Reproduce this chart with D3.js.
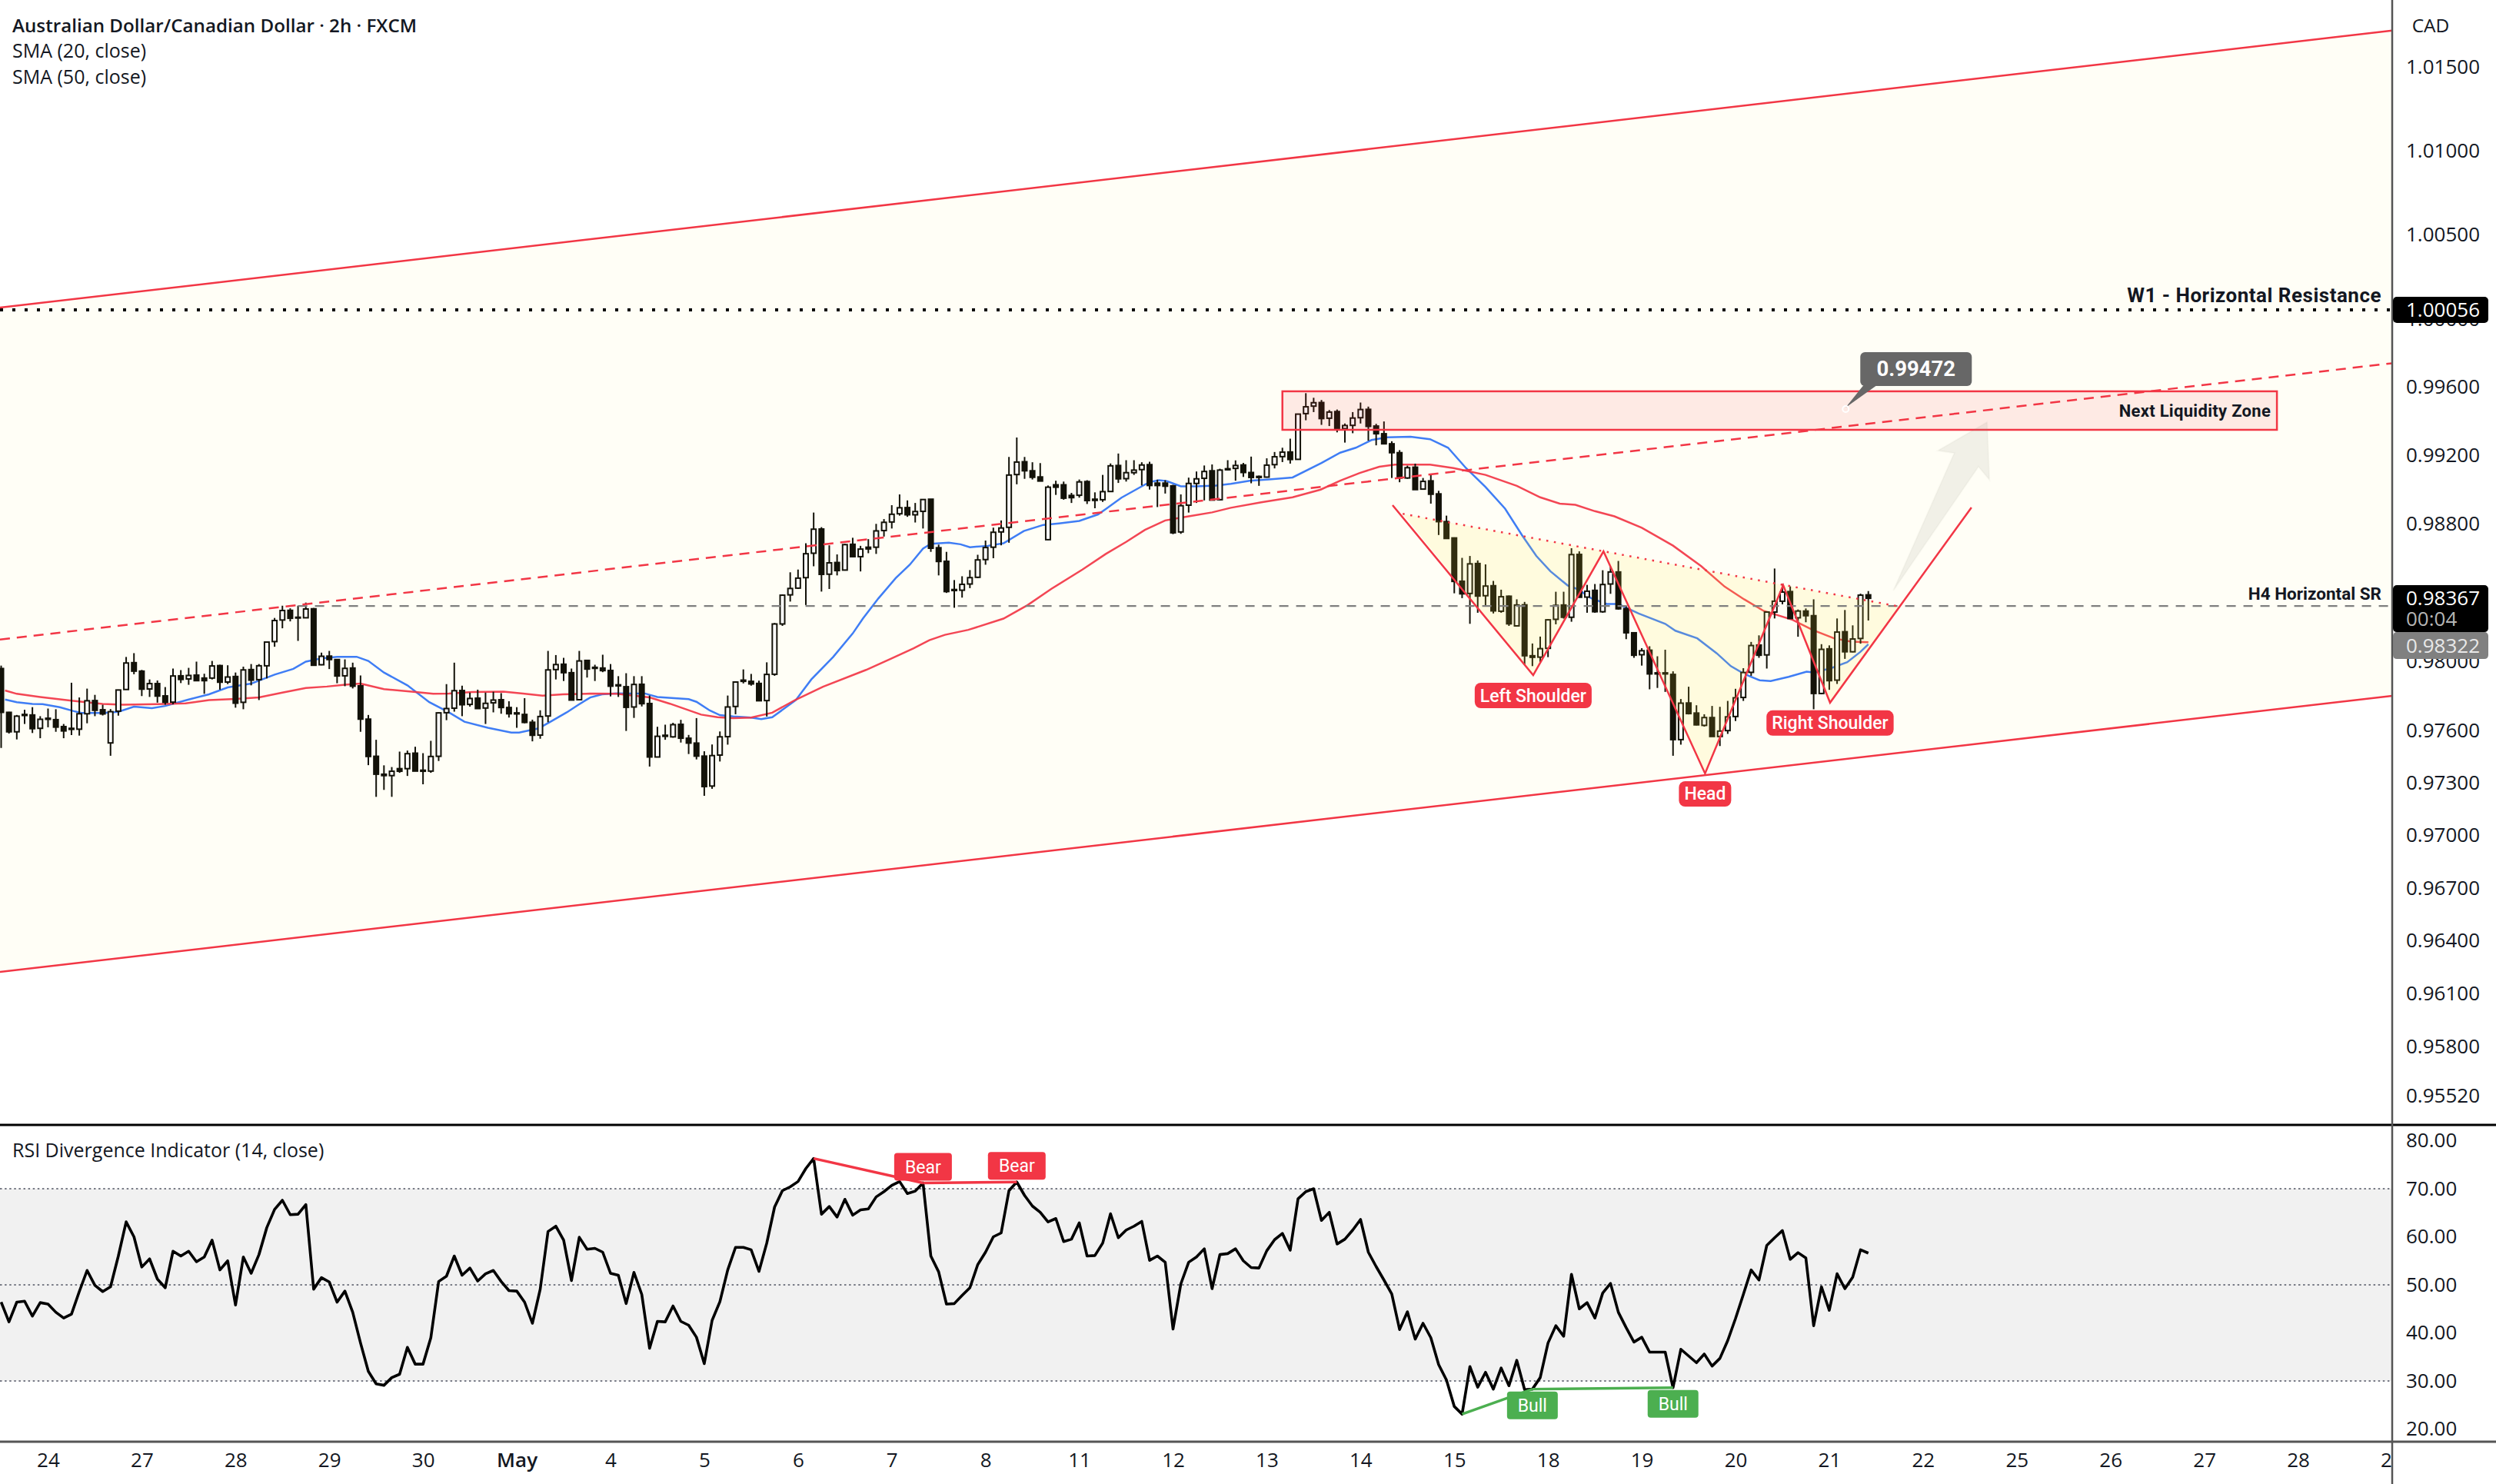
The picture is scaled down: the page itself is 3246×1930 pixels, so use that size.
<!DOCTYPE html>
<html><head><meta charset="utf-8">
<script src="https://cdnjs.cloudflare.com/ajax/libs/d3/7.8.5/d3.min.js"></script>
<style>html,body{margin:0;background:#fff}svg{display:block}</style></head>
<body><svg id="c" width="3246" height="1930"></svg>
<script>
// Prices are in points: 1 point = 0.00001 CAD
const openPts=[97960,97707,97595,97695,97692,97615,97673,97665,97625,97615,
97610,97699,97775,97722,97531,97714,97839,97994,97945,97842,
97873,97802,97766,97918,97900,97922,97905,97905,97977,97882,
97914,97765,97954,97896,97976,98116,98241,98297,98257,98254,
98306,97982,98032,98012,97918,97963,97860,97668,97454,97351,
97343,97383,97383,97472,97374,97369,97454,97705,97731,97833,
97753,97789,97732,97762,97780,97735,97704,97695,97650,97576,
97686,97954,97985,97936,97780,98007,97967,97963,97949,97866,
97855,97738,97869,97758,97450,97575,97566,97638,97558,97530,
97455,97283,97461,97567,97741,97893,97886,97874,97775,97927,
98218,98387,98426,98487,98629,98770,98507,98575,98531,98681,
98609,98664,98664,98761,98811,98859,98895,98853,98873,98944,
98661,98582,98418,98414,98450,98489,98592,98664,98753,98780,
99088,99163,99110,99074,98708,99028,99028,98966,98967,99047,
98944,98941,98989,99141,99064,99099,99117,99146,99038,99038,
99022,98753,98909,99036,99066,99110,98941,99122,99124,99144,
99100,99077,99073,99146,99193,99220,99177,99445,99489,99510,
99418,99457,99357,99376,99421,99470,99372,99327,99268,99216,
99068,99131,99003,99051,98975,98813,98718,98466,98395,98569,
98382,98440,98292,98379,98207,98329,98034,98026,98077,98245,
98328,98257,98622,98374,98413,98289,98450,98520,98307,98167,
98040,98066,97935,97935,97926,97550,97761,97703,97632,97677,
97568,97602,97683,97793,97938,98096,98039,98287,98350,98406,
98254,98293,98266,97816,98074,97893,98173,98057,98134,98387];
const closePts=[97707,97595,97685,97689,97613,97667,97667,97622,97600,97609,
97699,97774,97719,97698,97711,97836,97992,97945,97841,97873,
97801,97765,97917,97897,97920,97890,97890,97975,97881,97911,
97760,97952,97893,97976,98113,98238,98296,98251,98253,98305,
97979,98031,98012,97917,97961,97858,97668,97453,97351,97343,
97368,97368,97469,97369,97368,97453,97704,97729,97832,97751,
97787,97729,97759,97778,97735,97699,97698,97649,97575,97683,
97952,97983,97936,97778,98004,97957,97961,97948,97858,97860,
97736,97868,97757,97450,97569,97569,97636,97558,97530,97455,
97280,97458,97566,97738,97882,97886,97871,97774,97926,98218,
98385,98424,98484,98626,98769,98506,98573,98528,98679,98609,
98653,98654,98759,98809,98856,98894,98853,98872,98942,98658,
98581,98406,98412,98448,98487,98590,98662,98751,98776,99085,
99161,99110,99072,99050,99014,99014,98950,98953,99045,98936,
98937,98988,99139,99063,99099,99114,99144,99024,99024,99020,
98748,98906,99036,99063,99106,98939,99114,99116,99141,99100,
99071,99071,99143,99192,99219,99176,99442,99485,99509,99416,
99454,99354,99375,99419,99469,99370,99327,99268,99216,99068,
99128,99000,99048,98973,98813,98715,98465,98393,98567,98380,
98438,98294,98376,98219,98328,98034,98025,98075,98242,98326,
98257,98621,98373,98408,98289,98447,98520,98306,98167,98037,
98063,97929,97929,97929,97550,97760,97700,97635,97677,97568,
97599,97681,97791,97937,98093,98037,98287,98350,98403,98250,
98293,98266,97816,98071,97890,98171,98057,98131,98385,98367];
const highPts=[97977,97710,97692,97722,97737,97685,97729,97725,97640,97878,
97793,97844,97808,97751,97726,97838,98027,98049,97952,97897,
97891,97853,97960,97951,97964,98000,97930,98004,97982,97979,
97937,97971,97986,97986,98113,98253,98324,98309,98324,98342,
98311,98052,98062,98012,98013,97994,97920,97692,97549,97402,
97392,97481,97487,97509,97472,97543,97707,97870,97994,97861,
97821,97838,97821,97826,97818,97771,97737,97789,97665,97719,
98062,98038,98022,97960,98062,98007,97982,98040,97986,97916,
97933,97916,97916,97804,97624,97636,97647,97664,97577,97674,
97483,97522,97597,97804,97886,97955,97929,97890,97996,98224,
98390,98518,98534,98687,98866,98781,98675,98622,98684,98719,
98672,98711,98800,98828,98909,98972,98937,98922,98945,98945,
98679,98637,98473,98495,98531,98620,98703,98778,98820,99191,
99305,99191,99160,99155,99024,99052,99047,98981,99059,99055,
98984,99086,99153,99211,99172,99172,99160,99163,99058,99055,
99028,98972,99070,99106,99141,99147,99122,99172,99171,99156,
99193,99082,99183,99220,99245,99298,99442,99565,99538,99525,
99466,99469,99387,99454,99510,99486,99385,99399,99283,99231,
99140,99152,99068,99092,98993,98848,98721,98602,98613,98587,
98564,98468,98417,98383,98361,98346,98105,98145,98245,98405,
98405,98658,98640,98445,98450,98530,98551,98584,98324,98170,
98078,98089,98031,98069,97944,97784,97855,97748,97696,97744,
97739,97773,97843,97962,98114,98152,98290,98540,98451,98436,
98302,98308,98361,98101,98094,98250,98299,98210,98394,98409];
const lowPts=[97502,97585,97551,97640,97588,97558,97621,97595,97558,97576,
97573,97644,97685,97689,97457,97688,97838,97927,97801,97796,
97763,97751,97754,97876,97866,97890,97814,97897,97838,97870,
97734,97725,97863,97778,97903,98086,98193,98233,98120,98254,
97979,97979,97957,97875,97858,97845,97595,97403,97221,97261,
97221,97359,97341,97369,97293,97359,97427,97662,97711,97685,
97740,97729,97640,97707,97699,97677,97618,97644,97540,97555,
97650,97897,97888,97778,97777,97908,97888,97939,97799,97796,
97600,97675,97741,97395,97449,97549,97561,97533,97467,97436,
97227,97267,97424,97521,97696,97874,97861,97772,97683,97918,
98207,98348,98421,98328,98553,98406,98421,98500,98528,98606,
98523,98629,98625,98726,98773,98848,98841,98808,98773,98637,
98500,98398,98312,98371,98426,98484,98562,98600,98675,98690,
99031,99063,99059,99050,98706,98969,98941,98922,98953,98916,
98891,98928,98988,99039,99047,99086,99024,99000,98898,98977,
98740,98742,98866,98922,98937,98937,98937,99113,99052,99074,
99037,99022,99070,99124,99161,99152,99176,99406,99454,99379,
99372,99335,99275,99330,99387,99286,99259,99265,99068,99043,
99063,99000,99000,98918,98735,98715,98396,98368,98219,98283,
98324,98279,98283,98207,98207,97981,97974,97996,98026,98216,
98249,98231,98373,98283,98283,98283,98393,98301,98130,98022,
97977,97840,97848,97825,97457,97521,97695,97632,97625,97568,
97513,97583,97657,97773,97918,98022,97960,98250,98332,98248,
98144,98228,97725,97811,97837,97871,98016,98054,98104,98238];

// SMA(20): bar number / value in points
const sma20Bars=[0.5,2,4,5.3,7.5,9.3,10.3,13,15,17,19.3,21,24,26.6,29,32,35,37.4,39,41,43,45.5,47,49,52,54.8,57.3,59.3,62.3,65.3,66.3,68.8,70.4,72.4,73.9,75.4,76.9,78.8,
80,82.4,84,88,89,90.7,92,93.7,96,97.3,98.7,101.7,103.7,106.5,109,110.3,112.3,114.5,116.3,118,119,121.3,122.8,124,126.3,128.3,130.9,133.4,135.4,138,140.4,141.4,143.4,146,147,148.2,149.2,151,153,155.5,157.4,
159.8,162.3,165.3,169,171.4,173.4,175.4,177.4,180.4,182.9,185.2,187.5,190,192.5,194.7,196.5,198.3,200.5,201.8,203.5,205.5,207,209.6,213,214.3,217.1,219.6,221.4,223.1,225.1,226.5,228.8,231.1,231.9,234.1,236.3,238,239];
const sma20Pts=[97781,97766,97756,97754,97737,97714,97704,97704,97710,97740,97731,97744,97781,97811,97851,97873,97925,97958,98000,98019,98028,98028,98004,97937,97863,97766,97707,97653,97618,97591,97591,97615,97655,97707,97751,97793,97811,97817,
97816,97816,97796,97783,97768,97718,97691,97683,97677,97668,97679,97777,97897,98027,98163,98249,98367,98484,98562,98656,98684,98690,98681,98664,98672,98687,98758,98794,98803,98817,98855,98887,98953,99019,99044,99055,99050,99019,99019,99024,99034,
99052,99060,99071,99156,99216,99245,99290,99306,99309,99295,99245,99126,99015,98889,98732,98613,98524,98442,98420,98368,98334,98334,98279,98219,98179,98135,98048,97974,97929,97892,97888,97912,97942,97938,97960,97997,98057,98101];
// SMA(50)
const sma50Bars=[0.5,2,5,9,13,15.6,20,23.6,26.6,30,33,36,39,41.7,44,46,49,52.8,55.3,57.3,60.3,64.3,66.8,69.3,71.9,75.4,78.8,
83,85.6,89.6,91.7,93.7,96,98.7,101.7,105.2,110.7,113.8,116.8,118.8,120.8,123.8,128.3,131.4,134.4,138.4,141.4,144,146.4,149,152,155,157.4,
161.3,165.3,168.9,171.4,173.9,176.4,178.4,182.9,185.9,190,194,197,199.5,201.5,204,206.5,210,214,217.6,220.6,223.1,225.6,
229.3,231.9,234.6,236.8,239];
const sma50Pts=[97833,97814,97796,97774,97756,97751,97754,97759,97778,97784,97793,97821,97848,97856,97867,97873,97841,97826,97814,97815,97824,97827,97815,97803,97811,97815,97814,
97793,97757,97694,97679,97674,97677,97705,97780,97855,97952,98015,98077,98124,98155,98184,98249,98328,98421,98534,98625,98695,98765,98820,98844,98867,98894,
98926,98955,99000,99052,99097,99134,99146,99146,99126,99086,99022,98955,98918,98911,98874,98844,98777,98673,98554,98435,98361,98294,
98242,98183,98135,98116,98112];

const rsiValues=[46.4,42.3,46.4,46.6,43.5,46.3,46.0,44.3,43.1,43.9,
48.6,53.0,49.9,48.6,49.6,56.0,63.1,60.0,53.7,55.4,
51.2,49.4,57.0,56.0,57.0,54.8,55.8,59.3,53.1,55.0,
45.8,55.8,52.4,56.3,61.9,65.7,67.6,64.6,64.7,66.7,
49.1,51.5,50.6,46.4,48.7,44.3,37.9,32.0,29.4,29.1,
30.7,31.4,37.0,33.5,33.5,39.0,50.7,51.8,56.0,52.0,
53.5,50.8,52.3,53.0,50.7,48.8,48.7,46.4,42.0,49.1,
61.1,62.2,59.3,50.9,59.9,57.4,57.6,56.8,52.4,52.0,
46.1,52.6,48.0,36.8,42.4,42.3,45.6,42.4,41.6,39.1,
33.6,42.6,46.5,53.1,57.8,57.8,57.3,52.8,58.7,66.2,
69.6,70.4,71.5,74.2,76.3,64.7,66.3,64.1,67.8,64.5,
65.6,65.8,68.3,69.4,70.7,71.5,69.0,69.5,71.2,56.0,
52.7,46.0,46.1,47.8,49.4,54.2,56.8,60.0,60.8,69.6,
71.4,68.6,66.4,65.1,63.1,63.8,59.0,59.5,62.9,56.0,
56.1,58.7,64.8,59.8,61.4,62.2,63.2,55.1,56.0,54.7,
40.8,50.2,54.7,55.8,57.5,49.2,56.3,56.5,57.5,55.0,
53.6,53.5,57.1,59.4,60.7,57.2,67.9,69.4,70.0,63.4,
65.1,58.5,59.5,61.4,63.6,56.8,53.8,51.0,48.1,40.7,
44.4,38.7,42.0,39.0,33.4,30.2,24.7,23.1,33.0,28.7,
31.8,28.3,32.7,29.0,34.3,28.2,28.3,30.7,37.9,41.5,
39.3,52.2,45.0,46.3,43.1,48.3,50.3,44.3,41.1,38.1,
39.1,36.0,36.0,36.0,28.6,36.6,35.2,33.8,35.6,33.1,
34.7,38.4,43.0,48.0,53.1,51.0,58.2,59.8,61.3,55.3,
56.7,55.6,41.5,49.6,44.7,52.3,49.2,51.6,57.3,56.6];

const priceTicks=[1.015,1.01,1.005,1.0,0.996,0.992,0.988,0.98,0.976,0.973,0.97,0.967,0.964,0.961,0.958,0.9552];
const rsiTicks=[80,70,60,50,40,30,20];
const timeBars=[6,18,30,42,54,66,78,90,102,114,126,138,150,162,174,186,198,210,222,234,246,258,270,282,294,306];
const timeLabels=["24","27","28","29","30","May","4","5","6","7","8","11","12","13","14","15","18","19","20","21","22","25","26","27","28","29"];

// Drawings: [bar, price]
const channelUpper=[[-0.15,1.00069],[306.05,1.01719]];
const channelLower=[[-0.15,0.96222],[306.05,0.97802]];
const channelMiddle=[[-0.15,0.98128],[306.05,0.99741]];
const resistanceLevel=1.00056, supportLevel=0.98322, lastPrice=0.98367, targetPrice=0.99472;
const supportStartBar=38, barsEnd=306.05;
const zoneBars=[164,291.3], zonePrices=[0.99576,0.99350];
const zigzag=[[178.1,0.98909],[196.1,0.97922],[205.1,0.98640],[218.1,0.97355],[228.1,0.98443],[234.1,0.97763],[252.2,0.98896]];
const neckline=[[179.4,0.98859],[243.1,0.98318]];
const arrowShape=[[242.2,0.98412],[250,0.99214],[247.9,0.99228],[254.2,0.99395],[254.5,0.99057],[253.1,0.99134]];
const calloutBar=236.1;
const shoulderNames=["Left Shoulder","Head","Right Shoulder"];
const shoulderVertex=[1,3,5];
const bearBars=[[104,118],[118,130]], bullBars=[[187,196],[196,214]];

const RED="#f23645",INK="#131209",FONT="'Open Sans',sans-serif",LBL="Roboto,sans-serif";
const svg=d3.select("#c");
const W=3246,H=1930,PR=3111,PB=1462,TT=1875;
const x=d3.scaleLinear().domain([0,239]).range([1.5,2429.74]);
// log price scale, anchored on two read ticks
const y=d3.scaleLog().domain([0.996,0.976]).range([503.6,950.6]);
const rsiY=d3.scaleLinear().domain([20,80]).range([1858.5,1483.5]);
const P=v=>v/1e5;
const n=openPts.length;
const defs=svg.append("defs");
defs.append("clipPath").attr("id","pp").append("rect").attr("width",PR).attr("height",PB);
defs.append("clipPath").attr("id","rp").append("rect").attr("y",PB).attr("width",PR).attr("height",TT-PB);
defs.append("clipPath").attr("id","tp").append("rect").attr("y",TT).attr("width",PR).attr("height",H-TT);
const pg=svg.append("g").attr("clip-path","url(#pp)");
const drawLine=d3.line().x(d=>x(d[0])).y(d=>y(d[1]));

// Channel background
pg.append("path").attr("fill","#fffef6")
  .attr("d",drawLine([channelUpper[0],channelUpper[1],channelLower[1],channelLower[0]])+"Z");

// Moving averages under the candles
[[sma20Bars,sma20Pts,"#2f72f4"],[sma50Bars,sma50Pts,RED]].forEach(([b,v,c])=>{
  pg.append("path").attr("fill","none").attr("stroke",c).attr("stroke-width",2.5).attr("stroke-opacity",.92)
    .attr("d",drawLine(b.map((k,i)=>[k,P(v[i])])));
});

// Candles
const bars=d3.range(n);
const cg=pg.append("g");
cg.selectAll("line").data(bars).join("line")
  .attr("x1",i=>x(i)).attr("x2",i=>x(i))
  .attr("y1",i=>y(P(highPts[i]))).attr("y2",i=>y(P(lowPts[i])))
  .attr("stroke",INK).attr("stroke-width",2);
cg.selectAll("rect").data(bars).join("rect")
  .attr("x",i=>x(i)-3).attr("width",6)
  .attr("y",i=>y(P(Math.max(openPts[i],closePts[i]))))
  .attr("height",i=>Math.max(1,Math.abs(y(P(openPts[i]))-y(P(closePts[i])))))
  .attr("fill",i=>closePts[i]>=openPts[i]?"#fff":INK)
  .attr("stroke",INK).attr("stroke-width",2);

// Head & shoulders fill over candles
const hsFill=[neckline[0],...zigzag.slice(1,5),[zigzag[5][0],zigzag[5][1]],neckline[1]];
pg.append("path").attr("fill","#ffeb3b").attr("fill-opacity",.13).attr("d",drawLine(hsFill)+"Z");

// Levels and channel lines
pg.append("line").attr("x1",x(supportStartBar)).attr("x2",x(barsEnd)).attr("y1",y(supportLevel)).attr("y2",y(supportLevel))
  .attr("stroke","#7f7f7f").attr("stroke-width",2.2).attr("stroke-dasharray","12 10");
pg.append("line").attr("x1",0).attr("x2",PR).attr("y1",y(resistanceLevel)).attr("y2",y(resistanceLevel))
  .attr("stroke","#000").attr("stroke-width",4).attr("stroke-dasharray","4 12");
pg.append("path").attr("fill","none").attr("stroke",RED).attr("stroke-width",2.5).attr("d",drawLine(channelUpper));
pg.append("path").attr("fill","none").attr("stroke",RED).attr("stroke-width",2.5).attr("d",drawLine(channelLower));
pg.append("path").attr("fill","none").attr("stroke",RED).attr("stroke-width",2.5).attr("stroke-dasharray","13 9").attr("d",drawLine(channelMiddle));

// Liquidity zone
pg.append("rect").attr("x",x(zoneBars[0])).attr("width",x(zoneBars[1])-x(zoneBars[0]))
  .attr("y",y(zonePrices[0])).attr("height",y(zonePrices[1])-y(zonePrices[0]))
  .attr("fill",RED).attr("fill-opacity",.1).attr("stroke",RED).attr("stroke-width",2.5);
pg.append("text").attr("x",x(zoneBars[1])-8).attr("y",y((zonePrices[0]+zonePrices[1])/2)+8)
  .attr("text-anchor","end").attr("font-family",LBL).attr("font-weight",700).attr("font-size",22).attr("letter-spacing",.3).attr("fill","#131722").text("Next Liquidity Zone");

// Arrow
pg.append("path").attr("fill","#8a8a7a").attr("fill-opacity",.12).attr("stroke","#8a8a7a").attr("stroke-opacity",.05).attr("stroke-width",2)
  .attr("d",drawLine(arrowShape)+"Z");

// Zigzag + neckline
pg.append("path").attr("fill","none").attr("stroke",RED).attr("stroke-width",2.5).attr("d",drawLine(zigzag));
pg.append("path").attr("fill","none").attr("stroke",RED).attr("stroke-width",2.5).attr("stroke-dasharray","2.5 7.5").attr("d",drawLine(neckline));

// Pills on the pattern
shoulderNames.forEach((t,i)=>{
  const c=zigzag[shoulderVertex[i]],cx=x(c[0]),cy=y(c[1])+10;
  const g=pg.append("g");
  const tx=g.append("text").attr("x",cx).attr("y",cy+24.5).attr("text-anchor","middle")
    .attr("font-family",LBL).attr("font-weight",500).attr("font-size",23).attr("fill","#fff").text(t);
  const w=tx.node().getComputedTextLength()+14;
  g.insert("rect","text").attr("x",cx-w/2).attr("y",cy).attr("width",w).attr("height",33).attr("rx",8).attr("fill",RED);
});

// Price callout
{
  const ax=x(calloutBar),ay=y(targetPrice),g=pg.append("g");
  g.append("path").attr("fill","#676767").attr("d",d3.line()([[ax,ay-2],[ax+24,ay-32],[ax+42,ay-32]])+"Z");
  g.append("rect").attr("x",ax+19).attr("y",ay-74).attr("width",145).attr("height",44).attr("rx",6).attr("fill","#676767");
  g.append("circle").attr("cx",ax).attr("cy",ay).attr("r",4).attr("fill","none").attr("stroke","#fff").attr("stroke-width",2);
  g.append("text").attr("x",ax+91.5).attr("y",ay-43).attr("text-anchor","middle").attr("font-family",LBL).attr("font-weight",700)
    .attr("font-size",27.5).attr("fill","#fff").text(targetPrice.toFixed(5));
}
// Level labels
pg.append("text").attr("x",3097).attr("y",y(resistanceLevel)-10).attr("text-anchor","end").attr("font-family",LBL).attr("font-weight",700)
  .attr("font-size",26).attr("letter-spacing",.5).attr("fill","#131722").text("W1 - Horizontal Resistance");
pg.append("text").attr("x",3097).attr("y",y(supportLevel)-8).attr("text-anchor","end").attr("font-family",LBL).attr("font-weight",700)
  .attr("font-size",22.5).attr("fill","#131722").text("H4 Horizontal SR");

// Title block
const head=svg.append("g").attr("font-family",FONT).attr("fill","#131722");
head.append("text").attr("x",16).attr("y",42).attr("font-weight",600).attr("font-size",24.2).text("Australian Dollar/Canadian Dollar · 2h · FXCM");
head.append("text").attr("x",16).attr("y",75).attr("font-size",25).text("SMA (20, close)");
head.append("text").attr("x",16).attr("y",109).attr("font-size",25).text("SMA (50, close)");

// RSI pane
const rg=svg.append("g").attr("clip-path","url(#rp)");
rg.append("rect").attr("x",0).attr("width",PR).attr("y",rsiY(70)).attr("height",rsiY(30)-rsiY(70)).attr("fill","#f1f1f1");
[70,50,30].forEach(v=>rg.append("line").attr("x1",0).attr("x2",PR).attr("y1",rsiY(v)).attr("y2",rsiY(v))
  .attr("stroke","#787b86").attr("stroke-width",2).attr("stroke-dasharray","2.5 3.6"));
const rsiLine=d3.line().x(d=>x(d[0])).y(d=>rsiY(d[1]));
rg.append("path").attr("fill","none").attr("stroke","#000").attr("stroke-width",3.6).attr("stroke-linejoin","round")
  .attr("d",rsiLine(rsiValues.map((v,i)=>[i,v])));
const divLine=(pairs,color)=>pairs.forEach(p=>rg.append("path").attr("fill","none").attr("stroke",color).attr("stroke-width",3.5)
  .attr("d",rsiLine(p.map(b=>[b,rsiValues[b]]))));
divLine(bearBars,RED);divLine(bullBars,"#4caf50");
const tagR=(bar,above,txt,color,w)=>{
  const cx=x(bar),ry=rsiY(rsiValues[bar]),top=above?ry-39:ry+3,g=rg.append("g");
  g.append("rect").attr("x",cx-w/2).attr("y",top).attr("width",w).attr("height",36).attr("rx",4).attr("fill",color);
  g.append("text").attr("x",cx).attr("y",top+26).attr("text-anchor","middle").attr("font-family",LBL).attr("font-size",23).attr("fill","#fff").text(txt);
};
tagR(118,true,"Bear",RED,75);tagR(130,true,"Bear",RED,75);
tagR(196,false,"Bull","#4caf50",66);tagR(214,false,"Bull","#4caf50",66);
svg.append("text").attr("x",16).attr("y",1505).attr("font-family",FONT).attr("font-size",25).attr("fill","#131722").text("RSI Divergence Indicator (14, close)");

// Axes
const styleAxis=g=>{g.select(".domain").remove();g.selectAll("line").remove();
  g.selectAll("text").attr("font-family",FONT).attr("font-size",26).attr("fill","#131722");};
svg.append("g").attr("transform","translate(3129,0)")
  .call(d3.axisRight(y).tickValues(priceTicks).tickFormat(d3.format(".5f")).tickSize(0).tickPadding(0)).call(styleAxis);
svg.append("g").attr("transform","translate(3129,0)")
  .call(d3.axisRight(rsiY).tickValues(rsiTicks).tickFormat(d3.format(".2f")).tickSize(0).tickPadding(0)).call(styleAxis);
svg.append("text").attr("x",3161).attr("y",42).attr("text-anchor","middle").attr("font-family",FONT).attr("font-size",24.5).attr("fill","#131722").text("CAD");
const tg=svg.append("g").attr("clip-path","url(#tp)");
tg.append("g").attr("transform","translate(0,1890)")
  .call(d3.axisBottom(x).tickValues(timeBars).tickFormat((d,i)=>timeLabels[i]).tickSize(0).tickPadding(0)).call(styleAxis)
  .selectAll("text").attr("font-weight",(d,i)=>timeLabels[i]==="May"?600:400);

// Frame
svg.append("line").attr("x1",0).attr("x2",W).attr("y1",PB+1).attr("y2",PB+1).attr("stroke","#000").attr("stroke-width",3);
svg.append("line").attr("x1",0).attr("x2",W).attr("y1",TT).attr("y2",TT).attr("stroke","#555").attr("stroke-width",3);
svg.append("line").attr("x1",PR).attr("x2",PR).attr("y1",0).attr("y2",H).attr("stroke","#555").attr("stroke-width",2.5);

// Price tags
const tagsG=svg.append("g").attr("font-family",FONT).attr("font-size",26);
const tag=(top,h,fill)=>tagsG.append("rect").attr("x",3112).attr("y",top).attr("width",124).attr("height",h).attr("rx",5).attr("fill",fill);
const tagT=(yy,t,c)=>tagsG.append("text").attr("x",3129).attr("y",yy).attr("fill",c).text(t);
const ry=y(resistanceLevel),ly=y(lastPrice);
tag(ry-17,34,"#000");tagT(ry+9,resistanceLevel.toFixed(5),"#fff");
tag(ly-17,61,"#000");tagT(ly+9,lastPrice.toFixed(5),"#fff");tagT(ly+36,"00:04","#b5b5b5");
tag(ly+44,35,"#808080");tagT(ly+71,supportLevel.toFixed(5),"#e8e8e8");
</script></body></html>
